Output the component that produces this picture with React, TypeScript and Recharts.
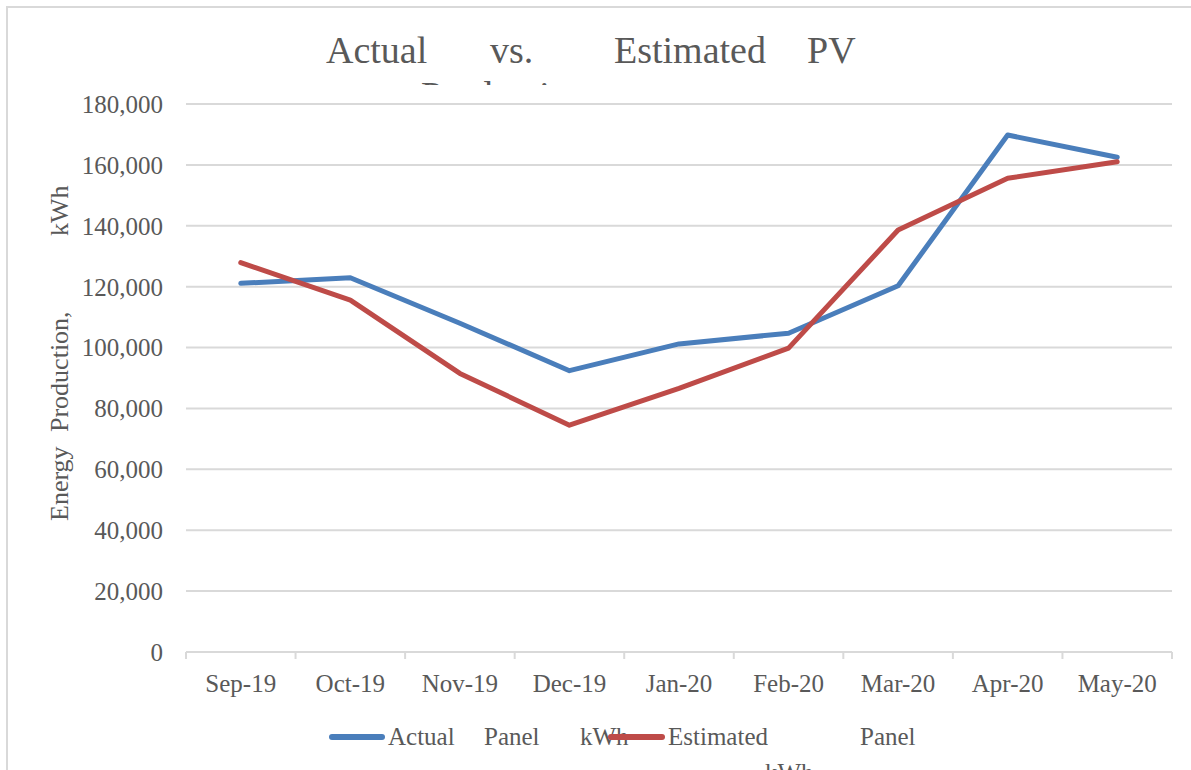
import React from 'react';
import { LineChart, Line, XAxis, YAxis, CartesianGrid } from 'recharts';

const months = ['Sep-19', 'Oct-19', 'Nov-19', 'Dec-19', 'Jan-20', 'Feb-20', 'Mar-20', 'Apr-20', 'May-20'];
const actualKwh = [121100, 122950, 108000, 92400, 101200, 104700, 120300, 169800, 162500];
const estimatedKwh = [127900, 115600, 91500, 74500, 86600, 99800, 138600, 155600, 161000];
const yTicks = [0, 20000, 40000, 60000, 80000, 100000, 120000, 140000, 160000, 180000];
const seriesNames = ['Actual Panel kWh', 'Estimated Panel kWh'];
const seriesColors = ['#4a7ebb', '#be4b48'];

const data = months.map((m, i) => ({ month: m, actual: actualKwh[i], estimated: estimatedKwh[i] }));

const FONT = '"Liberation Serif", serif';
const TEXT = '#595959';
const GRID = '#d9d9d9';

const W = 1191;
const H = 770;
const PLOT_LEFT = 186;
const PLOT_RIGHT = 1172;
const BAND = (PLOT_RIGHT - PLOT_LEFT) / months.length;

const XTick = (props: any) => {
  const { x, y, payload, index } = props;
  const axisY = y - 8;
  const left = x - BAND / 2;
  const right = x + BAND / 2;
  return (
    <g>
      <line x1={left} y1={axisY} x2={left} y2={axisY + 7} stroke={GRID} strokeWidth={2} />
      {index === months.length - 1 && (
        <line x1={right} y1={axisY} x2={right} y2={axisY + 7} stroke={GRID} strokeWidth={2} />
      )}
      <text x={x} y={axisY + 40} textAnchor="middle" fill={TEXT} fontSize={25} fontFamily={FONT}>
        {payload.value}
      </text>
    </g>
  );
};

export default function App() {
  return (
    <div style={{ position: 'absolute', left: 0, top: 0, width: W, height: H, overflow: 'hidden', background: '#fff' }}>
      <div style={{ position: 'absolute', left: 6, top: 6, width: 1400, height: 1000, border: `2px solid ${GRID}` }} />
      <div style={{ position: 'absolute', left: 0, top: 0 }}>
        <LineChart width={W} height={H} data={data} margin={{ top: 104, right: W - PLOT_RIGHT, left: 0, bottom: 88 }}>
          <CartesianGrid vertical={false} stroke={GRID} strokeWidth={2} />
          <XAxis
            dataKey="month"
            height={30}
            padding={{ left: BAND / 2, right: BAND / 2 }}
            axisLine={{ stroke: GRID, strokeWidth: 2 }}
            tickLine={false}
            tick={<XTick />}
            interval={0}
          />
          <YAxis
            width={PLOT_LEFT}
            domain={[0, 180000]}
            ticks={yTicks}
            axisLine={false}
            tickLine={false}
            tickSize={0}
            tickMargin={23}
            tick={{ fill: TEXT, fontSize: 25, fontFamily: FONT }}
            tickFormatter={(v: number) => v.toLocaleString('en-US')}
          />
          <Line
            type="linear"
            dataKey="actual"
            name={seriesNames[0]}
            stroke={seriesColors[0]}
            strokeWidth={5}
            dot={false}
            strokeLinejoin="round"
            strokeLinecap="round"
            isAnimationActive={false}
          />
          <Line
            type="linear"
            dataKey="estimated"
            name={seriesNames[1]}
            stroke={seriesColors[1]}
            strokeWidth={5}
            dot={false}
            strokeLinejoin="round"
            strokeLinecap="round"
            isAnimationActive={false}
          />
        </LineChart>
      </div>
      <svg width={W} height={H} style={{ position: 'absolute', left: 0, top: 0, pointerEvents: 'none' }}>
        <defs>
          <clipPath id="titleClip">
            <rect x={0} y={0} width={W} height={85} />
          </clipPath>
        </defs>
        <g fill={TEXT} fontFamily={FONT} fontSize={38}>
          <text x={326} y={63}>Actual</text>
          <text x={490} y={63}>vs.</text>
          <text x={614} y={63}>Estimated</text>
          <text x={807} y={63}>PV</text>
          <text x={421} y={108} clipPath="url(#titleClip)">Production</text>
        </g>
        <g fill={TEXT} fontFamily={FONT} fontSize={26}>
          <text transform="translate(68,521) rotate(-90)">Energy</text>
          <text transform="translate(68,432) rotate(-90)">Production,</text>
          <text transform="translate(68,236) rotate(-90)">kWh</text>
        </g>
        <g fill={TEXT} fontFamily={FONT} fontSize={25}>
          <line x1={332} y1={737} x2={382} y2={737} stroke={seriesColors[0]} strokeWidth={6} strokeLinecap="round" />
          <text x={388} y={745}>{seriesNames[0].split(' ')[0]}</text>
          <text x={484} y={745}>{seriesNames[0].split(' ')[1]}</text>
          <text x={580} y={745}>{seriesNames[0].split(' ')[2]}</text>
          <line x1={611} y1={737} x2={662} y2={737} stroke={seriesColors[1]} strokeWidth={6} strokeLinecap="round" />
          <text x={668} y={745}>{seriesNames[1].split(' ')[0]}</text>
          <text x={860} y={745}>{seriesNames[1].split(' ')[1]}</text>
          <text x={765} y={781}>{seriesNames[1].split(' ')[2]}</text>
        </g>
      </svg>
    </div>
  );
}
